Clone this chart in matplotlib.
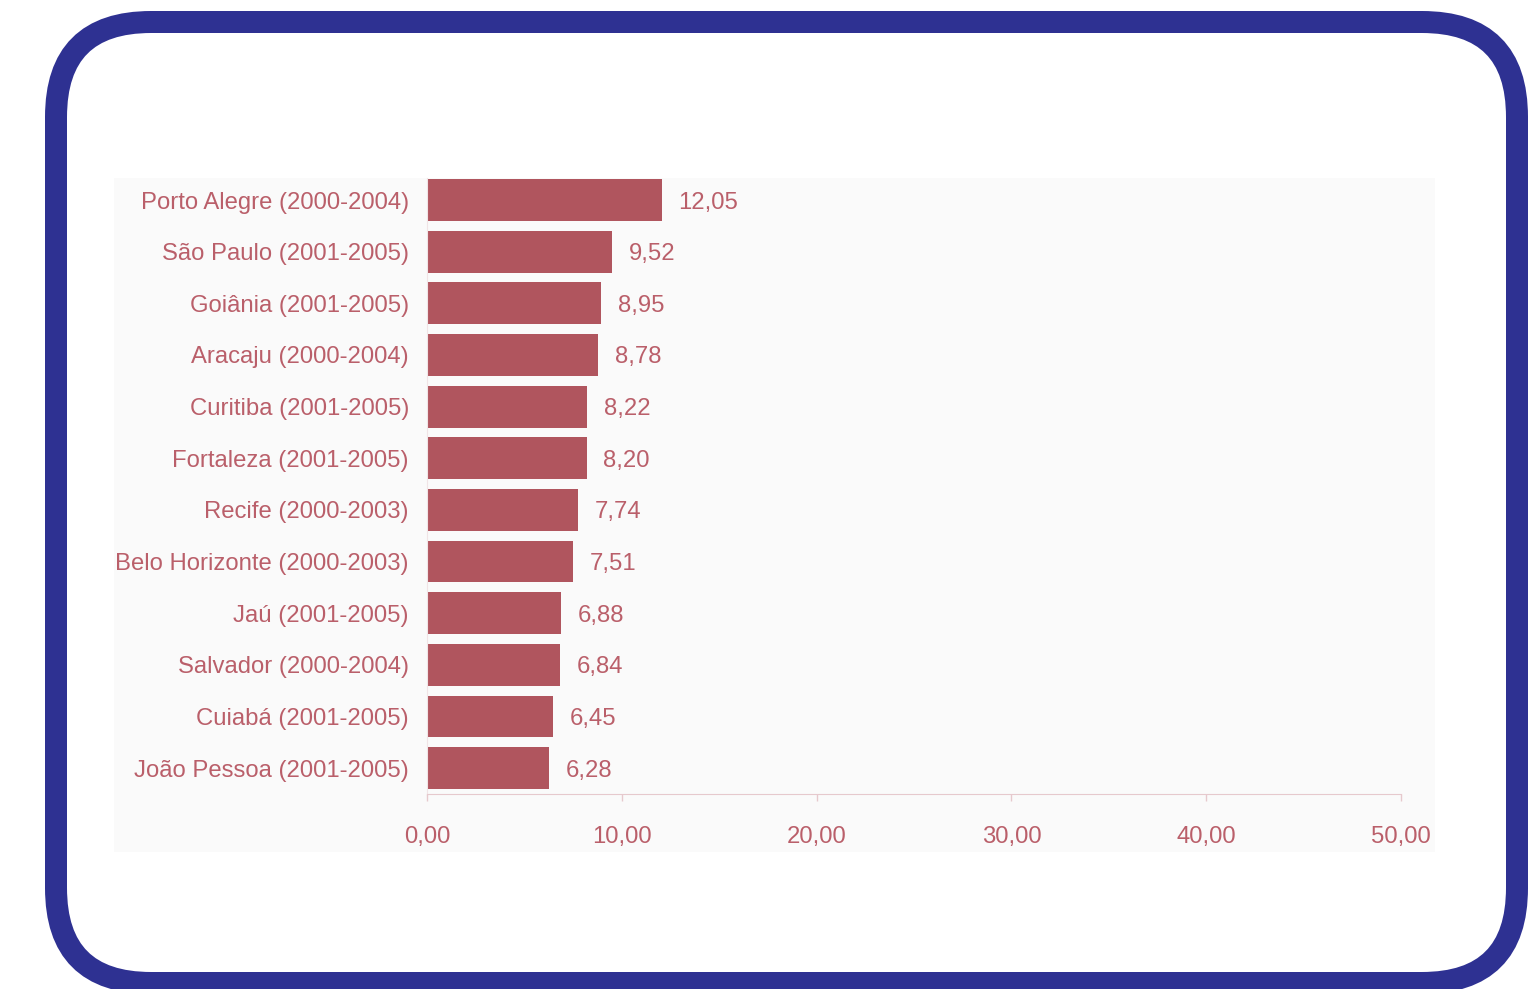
import matplotlib
matplotlib.use("Agg")
import matplotlib.pyplot as plt
from matplotlib.patches import FancyBboxPatch, Rectangle

plt.rcParams['font.family'] = ['Liberation Sans', 'DejaVu Sans']

cidades = [
    "Porto Alegre (2000-2004)",
    "São Paulo (2001-2005)",
    "Goiânia (2001-2005)",
    "Aracaju (2000-2004)",
    "Curitiba (2001-2005)",
    "Fortaleza (2001-2005)",
    "Recife (2000-2003)",
    "Belo Horizonte (2000-2003)",
    "Jaú (2001-2005)",
    "Salvador (2000-2004)",
    "Cuiabá (2001-2005)",
    "João Pessoa (2001-2005)",
]
taxas = [12.05, 9.52, 8.95, 8.78, 8.22, 8.20, 7.74, 7.51, 6.88, 6.84, 6.45, 6.28]
ticks_x = [0, 10, 20, 30, 40, 50]

W, H = 1532, 989
BAR = "#b0555e"
TXT = "#ba5f6a"
AXIS = "#e6c9cd"
BORDER = "#2e3192"
FS = 17.2

fig = plt.figure(figsize=(W / 100, H / 100), dpi=100)
fig.patch.set_facecolor("white")

# background layer in pixel coordinates: rounded frame and panel
bg = fig.add_axes([0, 0, 1, 1], zorder=0)
bg.set_xlim(0, W)
bg.set_ylim(H, 0)
bg.axis("off")
bg.add_patch(Rectangle((114, 178), 1435 - 114, 852 - 178,
                       facecolor="#fafafa", edgecolor="none"))
bg.add_patch(FancyBboxPatch((56 + 95, 22 + 95), (1517 - 56) - 190, (983 - 22) - 190,
                            boxstyle="round,pad=95",
                            facecolor="none", edgecolor=BORDER,
                            linewidth=22 * 72 / 100))


def fx(px):
    return px / W


def fy(py):
    return 1 - py / H


x0, x1 = 427, 1401
y_top, y_bot = 178, 794
ax = fig.add_axes([fx(x0), fy(y_bot), fx(x1) - fx(x0), (y_bot - y_top) / H], zorder=1)
ax.patch.set_alpha(0)

pos = list(range(len(cidades)))
ax.barh(pos, taxas, height=0.81, color=BAR, edgecolor="none")
ax.set_xlim(0, 50)
ax.set_ylim(11.5, -0.426)

for p, v in zip(pos, taxas):
    ax.annotate(f"{v:.2f}".replace(".", ","), (v, p), xytext=(12, -1.8),
                textcoords="offset points", va="center", ha="left",
                fontsize=FS, color=TXT)

ax.set_yticks(pos)
ax.set_yticklabels(cidades, fontsize=FS, color=TXT)
ax.tick_params(axis="y", length=0, pad=13)

ax.set_xticks(ticks_x)
ax.set_xticklabels([f"{t:.2f}".replace(".", ",") for t in ticks_x],
                   fontsize=FS, color=TXT)
ax.tick_params(axis="x", length=5, width=1, color=AXIS, pad=18)

for s in ["top", "right"]:
    ax.spines[s].set_visible(False)
ax.spines["bottom"].set_color(AXIS)
ax.spines["left"].set_color("#f0e4e6")
ax.spines["left"].set_linewidth(0.8)

fig.savefig("out.png", dpi=100, facecolor="white")
